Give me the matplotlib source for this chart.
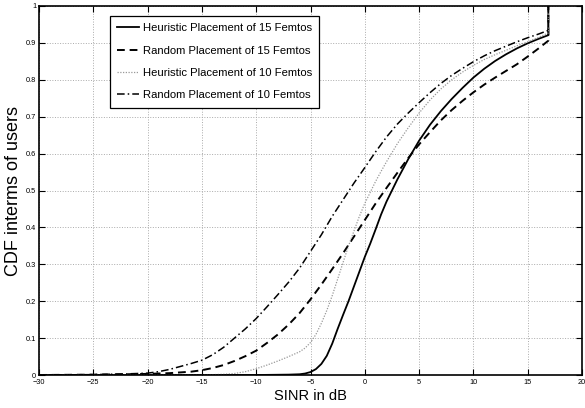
import numpy as np
import matplotlib
matplotlib.use("Agg")
import matplotlib.pyplot as plt

plt.rcParams['font.family'] = ['Liberation Sans', 'DejaVu Sans']

# SINR (dB) / CDF points
heur15_x = [-30, -20, -10, -7, -6, -5.5, -5, -4.5, -4, -3.5, -3, -2.5, -2, -1.5, -1, -0.5, 0, 0.5, 1, 1.5, 2,
            3, 4, 5, 6, 7, 8, 9, 10, 11, 12, 13, 14, 15, 16, 16.9, 16.9]
heur15_y = [0, 0, 0, 0.001, 0.002, 0.004, 0.008, 0.016, 0.03, 0.052, 0.085, 0.125, 0.163, 0.2, 0.24, 0.28, 0.32,
            0.356, 0.395, 0.435, 0.47, 0.53, 0.585, 0.635, 0.678, 0.715, 0.748, 0.778, 0.806, 0.83, 0.851, 0.869,
            0.885, 0.899, 0.911, 0.921, 1.0]

rand15_x = [-30, -25, -22, -20, -18, -16, -15, -14, -13, -12, -11, -10, -9, -8, -7, -6, -5, -4, -3, -2, -1, 0,
            1, 2, 3, 4, 5, 6, 7, 8, 9, 10, 11, 12, 13, 14, 15, 16, 16.9, 16.9]
rand15_y = [0, 0.001, 0.002, 0.003, 0.005, 0.009, 0.013, 0.019, 0.027, 0.038, 0.051, 0.066, 0.087, 0.11, 0.137,
            0.168, 0.205, 0.245, 0.287, 0.33, 0.375, 0.42, 0.465, 0.507, 0.548, 0.588, 0.625, 0.658, 0.69, 0.718,
            0.743, 0.766, 0.787, 0.806, 0.824, 0.842, 0.863, 0.885, 0.906, 1.0]

heur10_x = [-30, -15, -13, -12, -11, -10, -9, -8, -7, -6, -5.5, -5, -4.5, -4, -3.5, -3, -2.5, -2, -1.5, -1, -0.5,
            0, 0.5, 1, 1.5, 2, 3, 4, 5, 6, 7, 8, 9, 10, 11, 12, 13, 14, 15, 16, 16.9, 16.9]
heur10_y = [0, 0, 0.002, 0.004, 0.009, 0.017, 0.027, 0.038, 0.05, 0.063, 0.073, 0.088, 0.11, 0.14, 0.175, 0.215,
            0.26, 0.305, 0.35, 0.39, 0.43, 0.465, 0.495, 0.525, 0.552, 0.578, 0.627, 0.67, 0.71, 0.745, 0.775,
            0.80, 0.821, 0.839, 0.855, 0.868, 0.88, 0.892, 0.903, 0.915, 0.927, 1.0]

rand10_x = [-30, -25, -22, -20, -19, -18, -17, -16, -15, -14, -13, -12, -11, -10, -9, -8, -7, -6, -5, -4, -3, -2,
            -1, 0, 1, 2, 3, 4, 5, 6, 7, 8, 9, 10, 11, 12, 13, 14, 15, 16, 16.9, 16.9]
rand10_y = [0, 0.001, 0.003, 0.005, 0.009, 0.015, 0.023, 0.031, 0.04, 0.055, 0.075, 0.1, 0.125, 0.153, 0.185,
            0.218, 0.252, 0.29, 0.335, 0.38, 0.43, 0.475, 0.52, 0.562, 0.605, 0.645, 0.68, 0.71, 0.738, 0.765,
            0.79, 0.812, 0.831, 0.849, 0.865, 0.879, 0.891, 0.903, 0.914, 0.924, 0.934, 1.0]

labels = ["Heuristic Placement of 15 Femtos", "Random Placement of 15 Femtos",
          "Heuristic Placement of 10 Femtos", "Random Placement of 10 Femtos"]

xticks = np.arange(-30, 21, 5)
yticks = np.arange(0, 1.01, 0.1)
ytick_labels = ["0", "0.1", "0.2", "0.3", "0.4", "0.5", "0.6", "0.7", "0.8", "0.9", "1"]

fig = plt.figure(figsize=(5.85, 4.08), dpi=100)
ax = fig.add_axes([39 / 585, 1 - 375 / 408, 543 / 585, 369 / 408])

ax.plot(heur15_x, heur15_y, color='black', lw=1.3, ls='-', label=labels[0])
ax.plot(rand15_x, rand15_y, color='black', lw=1.4, ls=(0, (4, 2.5)), label=labels[1])
ax.plot(heur10_x, heur10_y, color='#999999', lw=0.9, ls=(0, (1, 1.2)), label=labels[2])
ax.plot(rand10_x, rand10_y, color='black', lw=1.1, ls=(0, (5, 2, 1, 2)), label=labels[3])

ax.set_xlim(-30, 20)
ax.set_ylim(0, 1)
ax.set_xticks(xticks)
ax.set_yticks(yticks)
ax.set_yticklabels(ytick_labels)
ax.tick_params(direction='in', top=True, right=True, length=4, width=0.8, labelsize=5.3)
ax.tick_params(axis='x', pad=3)
ax.tick_params(axis='y', pad=2)
ax.grid(True, ls=':', color='#aaaaaa', lw=0.7)
for s in ax.spines.values():
    s.set_linewidth(1.2)

ax.set_xlabel("SINR in dB", fontsize=10.5, labelpad=2)
ax.set_ylabel("CDF interms of users", fontsize=13, labelpad=3)

leg = ax.legend(loc='upper left', bbox_to_anchor=(0.131, 0.973), fontsize=8.1, frameon=True,
                fancybox=False, edgecolor='black', framealpha=1, handlelength=1.9,
                borderpad=0.65, labelspacing=1.1, handletextpad=0.35, borderaxespad=0)
leg.get_frame().set_linewidth(0.9)

fig.savefig("out.png", dpi=100)
